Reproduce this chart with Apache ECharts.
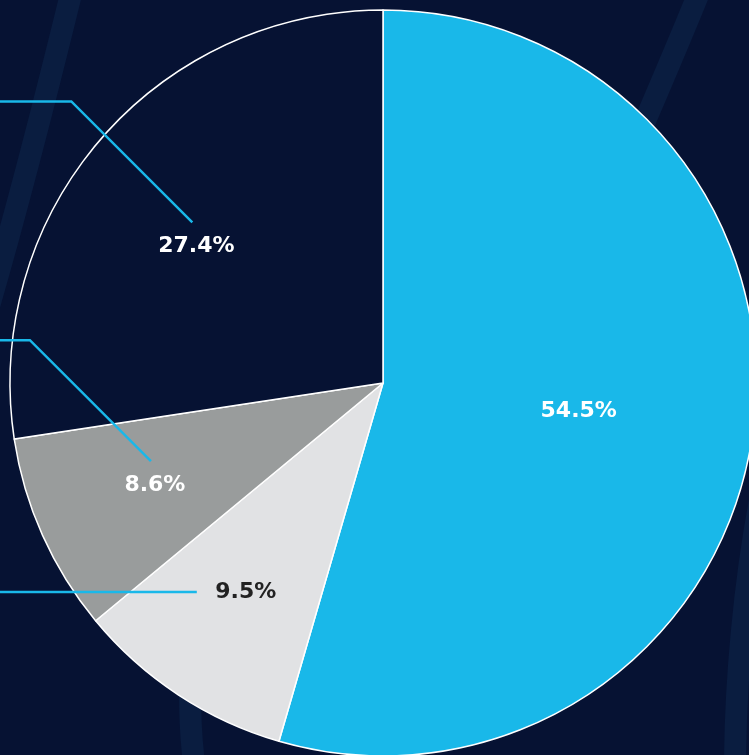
<!DOCTYPE html>
<html>
<head>
<meta charset="utf-8">
<script src="https://cdn.jsdelivr.net/npm/echarts@6/dist/echarts.min.js"></script>
<style>
  html, body { margin: 0; padding: 0; background: #061233; }
  #chart { width: 749px; height: 755px; }
</style>
</head>
<body>
<div id="chart"></div>
<script>
// slice data, clockwise from 12 o'clock
const shares = [54.5, 9.5, 8.6, 27.4];
const sliceColors = ['#19b8e9', '#e1e2e4', '#999c9c', '#061233'];
const labelColors = ['#ffffff', '#222222', '#ffffff', '#ffffff'];

// label placement (fraction of radius, angle tweak in degrees) and leader kind
const labelRadius = [0.53, 0.67, 0.67, 0.62];
const labelAngleShift = [0, 0, 0, -4.5];
const leaderKind = ['none', 'straight', 'bent', 'bent'];

const CX = 383, CY = 383, R = 373;
const LINE_BLUE = '#19b8e9';

const total = shares.reduce((a, b) => a + b, 0);

// middle angle (clockwise from top, degrees) of each slice
const midAngles = [];
let acc = 0;
shares.forEach(v => {
  midAngles.push((acc + v / 2) / total * 360);
  acc += v;
});

// where the percentage text sits for slice i
const labelPos = i => {
  const a = (midAngles[i] + labelAngleShift[i]) * Math.PI / 180;
  const r = R * labelRadius[i];
  return [CX + r * Math.sin(a), CY - r * Math.cos(a)];
};

const chart = echarts.init(document.getElementById('chart'));

const swoosh = (x1, y1, cpx1, cpy1, cpx2, cpy2, x2, y2) => ({
  type: 'bezierCurve', z: -10, silent: true,
  shape: { x1, y1, cpx1, cpy1, cpx2, cpy2, x2, y2 },
  style: { stroke: '#0a1d40', lineWidth: 22, fill: null }
});

const option = {
  backgroundColor: '#061233',
  animation: false,
  graphic: [
    // faint background swooshes
    swoosh(72, -10, 50, 80, 20, 200, -15, 320),
    swoosh(700, -10, 660, 90, 600, 220, 560, 330),
    swoosh(190, 690, 190, 720, 192, 750, 195, 770),
    swoosh(760, 500, 745, 580, 735, 680, 735, 770)
  ],
  series: [
    {
      // the slices and their percentages
      type: 'pie',
      z: 2,
      center: [CX, CY],
      radius: [0, R],
      startAngle: 90,
      clockwise: true,
      silent: true,
      avoidLabelOverlap: false,
      itemStyle: { borderColor: '#ffffff', borderWidth: 1.5 },
      label: {
        show: true,
        position: 'outside',
        formatter: p => p.value.toFixed(1) + '%',
        fontFamily: 'DejaVu Sans',
        fontWeight: 'bold',
        fontSize: 22
      },
      labelLine: { show: false },
      labelLayout: params => {
        const [x, y] = labelPos(params.dataIndex);
        return { x: x, y: y, align: 'center', verticalAlign: 'middle' };
      },
      data: shares.map((v, i) => ({
        value: v,
        itemStyle: { color: sliceColors[i] },
        label: { color: labelColors[i] }
      }))
    },
    {
      // transparent copy on top, only carrying the leader lines
      type: 'pie',
      z: 5,
      center: [CX, CY],
      radius: [0, R],
      startAngle: 90,
      clockwise: true,
      silent: true,
      avoidLabelOverlap: false,
      itemStyle: { color: 'rgba(0,0,0,0)', borderWidth: 0 },
      label: {
        show: true,
        position: 'outside',
        formatter: ' ',
        color: 'rgba(0,0,0,0)',
        fontSize: 22
      },
      labelLine: {
        show: true,
        smooth: false,
        lineStyle: { color: LINE_BLUE, width: 2.5 }
      },
      labelLayout: params => {
        const i = params.dataIndex;
        const [x, y] = labelPos(i);
        let pts;
        if (leaderKind[i] === 'bent') {
          const ex = x - 4, ey = y - 24;
          const bx = ex - 121, by = ey - 121;
          pts = [[ex, ey], [bx, by], [-20, by]];
        } else {
          const ex = x - 49;
          pts = [[ex, y], [ex - 100, y], [-20, y]];
        }
        return { x: -50, y: y, labelLinePoints: pts };
      },
      data: shares.map((v, i) => ({
        value: v,
        labelLine: {
          show: leaderKind[i] !== 'none',
          lineStyle: { color: LINE_BLUE, width: 2.5 }
        }
      }))
    }
  ]
};

chart.setOption(option);
</script>
</body>
</html>
